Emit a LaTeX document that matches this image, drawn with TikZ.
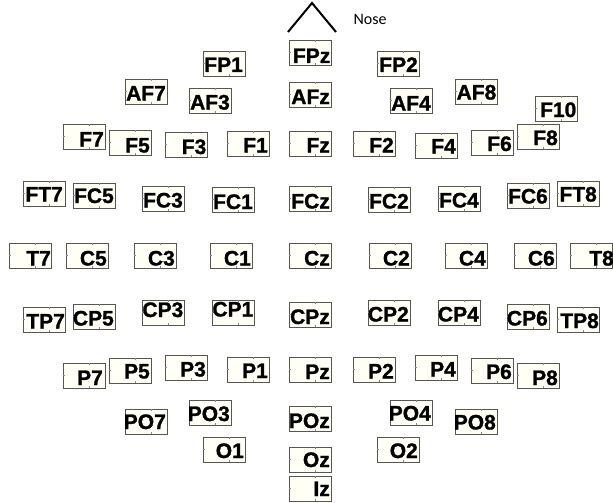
\documentclass[tikz,border=0pt]{standalone}
\usepackage{fontspec}
\setmainfont{Liberation Sans}
\newfontfamily\noseFont{Carlito}
\newfontfamily\elecFont[FakeBold=1.2]{Liberation Sans Bold}
\definecolor{boxfill}{HTML}{FFFFF6}
\definecolor{boxline}{HTML}{555555}
\definecolor{tickline}{HTML}{8A8A8A}

\tikzset{
  elecbox/.style={draw=boxline, fill=boxfill, line width=0.8pt,
    minimum width=42pt, minimum height=25pt, inner sep=0pt},
  electick/.style={draw=tickline, line width=0.5pt},
  eleclabel/.style={anchor=base east, inner sep=0pt, text=black,
    font=\elecFont\fontsize{21}{21}\selectfont},
  noseline/.style={line width=2pt, line join=miter},
}

% electrode: name, left x, top y, label, text x shift, text y shift
\newcommand\electrode[6]{%
  \node[elecbox] (#1) at (#2+21,#3+12.5) {};
  \draw[electick] (#2+26,#3) -- ++(0,2) (#2+26,#3+25) -- ++(0,-2)
                  (#2,#3+12.5) -- ++(2,0);
  \node[eleclabel] (#1-label) at (#2+42+#5,#3+20+#6) {#4};
}

\begin{document}
\begin{tikzpicture}[x=1pt, y=-1pt]
\useasboundingbox[fill=white] (0,0) rectangle (613,503);

% nose marker
\coordinate (noseL) at (288,32);
\coordinate (noseTip) at (312,3);
\coordinate (noseR) at (336,32);
\draw[noseline] (noseL) -- (noseTip) -- (noseR);
\node[font=\noseFont\fontsize{16}{16}\selectfont, inner sep=0pt] (nose) at (370,19) {Nose};

% frontal pole / anterior frontal
\electrode{FP1}{203}{51}{FP1}{-2}{1}
\electrode{FPz}{289}{40}{FPz}{-0.5}{3}
\electrode{FP2}{377}{51}{FP2}{-1}{1}
\electrode{AF7}{125}{79}{AF7}{-1}{1.5}
\electrode{AF3}{189}{88}{AF3}{-1}{1.5}
\electrode{AFz}{289}{82}{AFz}{-1}{2}
\electrode{AF4}{390}{88}{AF4}{-1}{2.5}
\electrode{AF8}{455}{79}{AF8}{-0.5}{0.5}
\electrode{F10}{535}{96}{F10}{-0.5}{1}

% frontal
\electrode{F7}{63}{124}{F7}{-1}{2.5}
\electrode{F5}{109}{130}{F5}{-1}{2.5}
\electrode{F3}{165}{132}{F3}{-0.5}{2}
\electrode{F1}{227}{131}{F1}{-1}{1.5}
\electrode{Fz}{289}{131}{Fz}{-1}{1.5}
\electrode{F2}{353}{131}{F2}{-1}{1.5}
\electrode{F4}{415}{133}{F4}{-1}{0.5}
\electrode{F6}{471}{130}{F6}{-1}{1}
\electrode{F8}{517}{124}{F8}{-1}{1}

% fronto-central / fronto-temporal
\electrode{FT7}{23}{181}{FT7}{-2}{0.5}
\electrode{FC5}{73}{183}{FC5}{-1}{0}
\electrode{FC3}{142}{186}{FC3}{-1}{1.5}
\electrode{FC1}{212}{187}{FC1}{-1}{2}
\electrode{FCz}{289}{186}{FCz}{-1}{2.5}
\electrode{FC2}{368}{187}{FC2}{-1}{1.5}
\electrode{FC4}{438}{186}{FC4}{-1}{1.5}
\electrode{FC6}{507}{183}{FC6}{-1}{0.5}
\electrode{FT8}{557}{181}{FT8}{-2}{0.5}

% central / temporal
\electrode{T7}{9}{243}{T7}{0}{2.5}
\electrode{C5}{66}{243}{C5}{-1}{2.5}
\electrode{C3}{134}{243}{C3}{-1}{2.5}
\electrode{C1}{210}{243}{C1}{-1}{2.5}
\electrode{Cz}{289}{243}{Cz}{-1}{2.5}
\electrode{C2}{369}{243}{C2}{-1}{2.5}
\electrode{C4}{445}{243}{C4}{-1}{2.5}
\electrode{C6}{514}{243}{C6}{-1}{2.5}
\electrode{T8}{570}{243}{T8}{2}{2.5}

% centro-parietal / temporo-parietal
\electrode{TP7}{23}{307}{TP7}{0}{1.5}
\electrode{CP5}{73}{304}{CP5}{-1}{1.5}
\electrode{CP3}{142}{300}{CP3}{-0.5}{-3}
\electrode{CP1}{212}{300}{CP1}{-0.5}{-3.5}
\electrode{CPz}{289}{302}{CPz}{-1}{2}
\electrode{CP2}{368}{300}{CP2}{-1}{1.5}
\electrode{CP4}{438}{300}{CP4}{-1}{1.5}
\electrode{CP6}{507}{304}{CP6}{-1}{1.5}
\electrode{TP8}{557}{307}{TP8}{0}{1}

% parietal
\electrode{P7}{63}{363}{P7}{-2}{2}
\electrode{P5}{109}{358}{P5}{-1}{0.5}
\electrode{P3}{165}{355}{P3}{-1}{1.5}
\electrode{P1}{227}{357}{P1}{-1}{1}
\electrode{Pz}{289}{357}{Pz}{-1}{2}
\electrode{P2}{353}{357}{P2}{-1}{1.5}
\electrode{P4}{415}{355}{P4}{-1}{1.5}
\electrode{P6}{471}{358}{P6}{-1}{1}
\electrode{P8}{517}{363}{P8}{-1}{2}

% parieto-occipital
\electrode{PO7}{125}{409}{PO7}{-1}{0}
\electrode{PO3}{189}{400}{PO3}{-1}{1}
\electrode{POz}{289}{406}{POz}{-1}{2}
\electrode{PO4}{390}{400}{PO4}{-1}{0.5}
\electrode{PO8}{455}{409}{PO8}{-1}{0.5}

% occipital / inion
\electrode{O1}{203}{437}{O1}{-1}{1}
\electrode{Oz}{289}{447}{Oz}{-1}{0}
\electrode{O2}{377}{437}{O2}{-1}{1}
\electrode{Iz}{289}{476}{Iz}{-1}{0}
\end{tikzpicture}
\end{document}
